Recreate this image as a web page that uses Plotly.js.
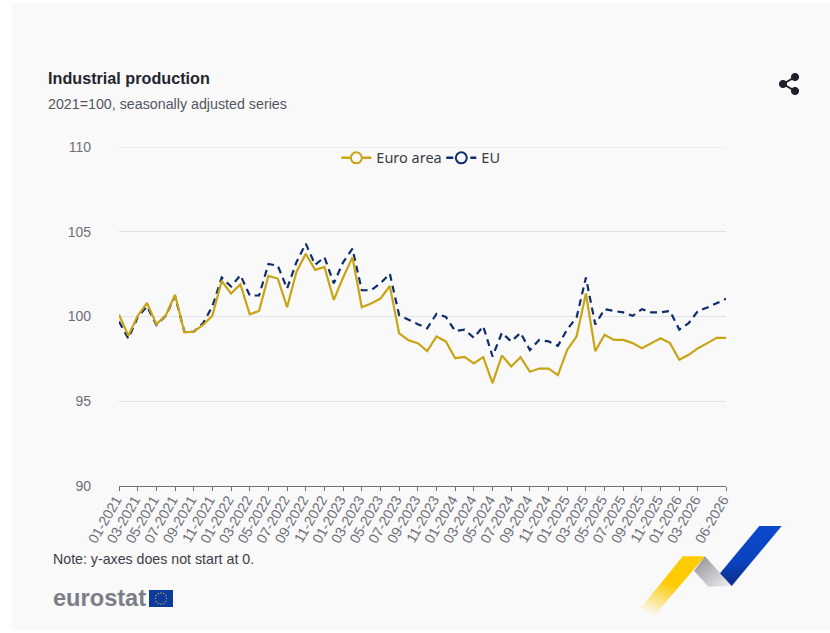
<!DOCTYPE html>
<html>
<head>
<meta charset="utf-8">
<title>Industrial production</title>
<script src="https://cdn.plot.ly/plotly-3.0.1.min.js"></script>
<style>
  html, body { margin: 0; padding: 0; background: #fff; overflow: hidden; }
  #panel { position: absolute; left: 12px; top: 3px; width: 818px; height: 627px; background: #f9f9fa; }
  #grafico { position: absolute; left: 0; top: 0; width: 830px; height: 633px; }
  #deco { position: absolute; left: 0; top: 0; pointer-events: none; }
</style>
</head>
<body>
<div id="panel"></div>
<div id="grafico"></div>
<svg id="deco" width="830" height="633">
  <defs>
    <linearGradient id="azul" x1="0" y1="0" x2="0" y2="1">
      <stop offset="0" stop-color="#0b49cf"/><stop offset="0.6" stop-color="#0b43bd"/><stop offset="1" stop-color="#0a2c85"/>
    </linearGradient>
    <linearGradient id="gris" x1="0" y1="0" x2="1" y2="1">
      <stop offset="0" stop-color="#8c8d93"/><stop offset="1" stop-color="#f1f1f3"/>
    </linearGradient>
    <linearGradient id="amarillo" x1="0.7" y1="0" x2="0.2" y2="1">
      <stop offset="0" stop-color="#ffcb05"/><stop offset="0.45" stop-color="#ffcb05"/><stop offset="1" stop-color="#ffcb05" stop-opacity="0"/>
    </linearGradient>
  </defs>
  <!-- share -->
  <g fill="#1d1f27" stroke="#1d1f27">
    <line x1="783" y1="84" x2="795" y2="77" stroke-width="2"/>
    <line x1="783" y1="84" x2="795" y2="91" stroke-width="2"/>
    <circle cx="783" cy="84" r="3.6"/><circle cx="795" cy="77" r="3.6"/><circle cx="795" cy="91" r="3.6"/>
  </g>
  <!-- flag -->
  <rect x="149" y="590" width="24" height="17" fill="#0e3a9e"/>
  <g id="stars" fill="#ffd617"></g>
  <!-- ribbon -->
  <polygon points="682.7,556.3 705,556.3 655,615 635,615" fill="url(#amarillo)"/>
  <polygon points="705,556.3 731.7,586 708.3,586.7 694,570.7" fill="url(#gris)"/>
  <polygon points="759.3,526 781.7,526 731.7,586 720,573.3" fill="url(#azul)"/>
</svg>
<script>
const meses = [
  '01-2021','02-2021','03-2021','04-2021','05-2021','06-2021','07-2021','08-2021','09-2021','10-2021','11-2021','12-2021',
  '01-2022','02-2022','03-2022','04-2022','05-2022','06-2022','07-2022','08-2022','09-2022','10-2022','11-2022','12-2022',
  '01-2023','02-2023','03-2023','04-2023','05-2023','06-2023','07-2023','08-2023','09-2023','10-2023','11-2023','12-2023',
  '01-2024','02-2024','03-2024','04-2024','05-2024','06-2024','07-2024','08-2024','09-2024','10-2024','11-2024','12-2024',
  '01-2025','02-2025','03-2025','04-2025','05-2025','06-2025','07-2025','08-2025','09-2025','10-2025','11-2025','12-2025',
  '01-2026','02-2026','03-2026','04-2026','05-2026','06-2026'
];
const euroArea = [
  100.1,98.87,100.04,100.8,99.55,100.05,101.28,99.06,99.1,99.5,100.05,102.1,
  101.35,101.9,100.13,100.33,102.4,102.24,100.55,102.63,103.7,102.75,102.93,100.98,
  102.3,103.5,100.55,100.77,101.06,101.8,99.0,98.6,98.43,97.96,98.82,98.53,
  97.54,97.62,97.23,97.6,96.07,97.7,97.05,97.6,96.74,96.93,96.92,96.54,
  98.04,98.82,101.36,97.96,98.92,98.62,98.62,98.43,98.13,98.43,98.72,98.43,
  97.45,97.74,98.13,98.43,98.74,98.74
];
const eu = [
  99.7,98.7,99.95,100.6,99.5,100.04,101.2,99.1,99.1,99.6,100.6,102.3,
  101.77,102.44,101.24,101.24,103.1,103.0,101.65,103.2,104.3,103.05,103.5,101.96,
  103.2,104.0,101.55,101.55,101.96,102.53,100.08,99.8,99.55,99.3,100.16,99.98,
  99.14,99.23,98.74,99.43,97.64,99.04,98.53,99.04,98.02,98.62,98.53,98.27,
  99.25,99.94,102.3,99.53,100.43,100.33,100.24,100.04,100.43,100.24,100.24,100.33,
  99.23,99.6,100.33,100.53,100.8,101.04
];
const ticksX = [
  '01-2021','03-2021','05-2021','07-2021','09-2021','11-2021',
  '01-2022','03-2022','05-2022','07-2022','09-2022','11-2022',
  '01-2023','03-2023','05-2023','07-2023','09-2023','11-2023',
  '01-2024','03-2024','05-2024','07-2024','09-2024','11-2024',
  '01-2025','03-2025','05-2025','07-2025','09-2025','11-2025',
  '01-2026','03-2026','06-2026'
];
const ticksY = [90, 95, 100, 105, 110];

const colorEuro = '#c9a516';
const colorEU = '#0f2d6b';
const colorGrid = '#e1e3ea';
const fuente = 'Liberation Sans, Arial, sans-serif';

// pixel -> paper
const L = 119, R = 726, T = 147, B = 486;
const px = x => (x - L) / (R - L);
const py = y => (B - y) / (B - T);

function nota(text, x, y, size, color, bold) {
  return {
    text: bold ? '<b>' + text + '</b>' : text,
    xref: 'paper', yref: 'paper', x: px(x), y: py(y),
    xanchor: 'left', yanchor: 'middle', showarrow: false,
    font: {family: fuente, size: size, color: color}
  };
}

const data = [
  // los de la leyenda, sin datos
  {x: [null], y: [null], name: 'Euro area', mode: 'lines+markers',
   line: {color: colorEuro, width: 2.5},
   marker: {symbol: 'circle', size: 11, color: '#f9f9fa', line: {color: colorEuro, width: 2}}},
  {x: [null], y: [null], name: 'EU', mode: 'lines+markers',
   line: {color: colorEU, width: 2.5, dash: '7px,5px'},
   marker: {symbol: 'circle', size: 11, color: '#f9f9fa', line: {color: colorEU, width: 2}}},
  {x: meses, y: eu, name: 'EU', mode: 'lines', showlegend: false,
   line: {color: colorEU, width: 2.2, dash: '7px,5px'}},
  {x: meses, y: euroArea, name: 'Euro area', mode: 'lines', showlegend: false,
   line: {color: colorEuro, width: 2.2}}
];

const layout = {
  width: 830,
  height: 633,
  margin: {l: L, r: 830 - R, t: T, b: 633 - B},
  paper_bgcolor: 'rgba(0,0,0,0)',
  plot_bgcolor: 'rgba(0,0,0,0)',
  font: {family: fuente, size: 14, color: '#6e7079'},
  showlegend: true,
  legend: {
    orientation: 'h', x: 0.531, xanchor: 'center', y: 1.015, yanchor: 'top',
    bgcolor: 'rgba(0,0,0,0)',
    entrywidth: 60,
    entrywidthmode: 'pixels',
    font: {family: 'Noto Sans, sans-serif', size: 14.5, color: '#3a3c46'}
  },
  xaxis: {
    type: 'category',
    categoryorder: 'array',
    categoryarray: meses,
    range: [0, meses.length - 1],
    tickmode: 'array',
    tickvals: ticksX,
    ticktext: ticksX,
    tickangle: -60,
    ticks: 'outside',
    ticklen: 4,
    tickcolor: '#6e7079',
    ticklabelstandoff: -5,
    ticklabelshift: -3,
    showline: true,
    linecolor: '#6e7079',
    linewidth: 1,
    showgrid: false,
    zeroline: false,
    tickfont: {family: fuente, size: 14.2, color: '#6e7079'}
  },
  yaxis: {
    range: [90, 110],
    tickmode: 'array',
    tickvals: ticksY,
    ticklabelstandoff: 27,
    gridcolor: colorGrid,
    gridwidth: 1,
    zeroline: false,
    showline: false,
    tickfont: {family: fuente, size: 14, color: '#6e7079'}
  },
  // plotly no pinta la rejilla en el borde de arriba
  shapes: [{
    type: 'line', layer: 'below', xref: 'paper', yref: 'y',
    x0: 0, x1: 1, y0: 110, y1: 110,
    line: {color: colorGrid, width: 1}
  }],
  annotations: [
    nota('Industrial production', 46, 78, 16.2, '#24262e', true),
    nota('2021=100, seasonally adjusted series', 46, 104, 14.25, '#54565f', false),
    nota('Note: y-axes does not start at 0.', 51, 559, 14.2, '#3c3e47', false),
    nota('eurostat', 51, 598, 23.6, '#7b7d87', true)
  ]
};

Plotly.newPlot('grafico', data, layout, {displayModeBar: false, responsive: false});

// estrellas de la bandera
const stars = document.getElementById('stars');
for (let i = 0; i < 12; i++) {
  const a = i * Math.PI / 6;
  const c = document.createElementNS('http://www.w3.org/2000/svg', 'circle');
  c.setAttribute('cx', 161 + 5.6 * Math.cos(a));
  c.setAttribute('cy', 598.5 + 5.6 * Math.sin(a));
  c.setAttribute('r', 0.6);
  stars.appendChild(c);
}
</script>
</body>
</html>
